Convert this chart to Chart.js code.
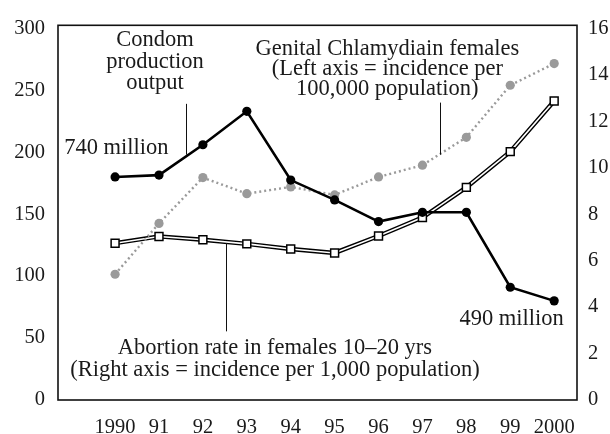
<!DOCTYPE html>
<html>
<head>
<meta charset="utf-8">
<script src="https://cdn.jsdelivr.net/npm/chart.js@4/dist/chart.umd.min.js"></script>
<style>
  html, body { margin: 0; padding: 0; background: #fff; }
  #wrap { width: 610px; height: 434px; position: relative; }
</style>
</head>
<body>
<div id="wrap"><canvas id="chart"></canvas></div>
<script>
// ───── Data ────────────────────────────────────────────────────────────────
const years = [1990, 1991, 1992, 1993, 1994, 1995, 1996, 1997, 1998, 1999, 2000];

// Left axis (millions / incidence per 100,000)
const condomOutput = [180, 181.5, 206, 233, 177.5, 161.5, 144, 151.5, 151.5, 91, 80];
const chlamydia = [101.5, 142.5, 179.5, 166.5, 172, 165.5, 180, 189.5, 212, 254, 271.5];

// Right axis (incidence per 1,000)
const abortion = [6.75, 7.04, 6.9, 6.72, 6.5, 6.33, 7.06, 7.85, 9.15, 10.69, 12.87];

const leftTicks = [0, 50, 100, 150, 200, 250, 300];
const rightTicks = [0, 2, 4, 6, 8, 10, 12, 14, 16];

// Annotation text, placed in data units (x = year, y = left axis value)
const notes = [
  { x: 1990.91, y: 290.5, align: 'center', lines: ['Condom', 'production', 'output'], gap: 17.5 },
  { x: 1988.84, y: 203.5, align: 'left', lines: ['740 million'] },
  { x: 1996.2, y: 283.5, align: 'center', lines: ['Genital Chlamydiain females', '(Left axis = incidence per', '100,000 population)'], gap: 16.3 },
  { x: 1993.64, y: 42, align: 'center', lines: ['Abortion rate in females 10\u201320 yrs', '(Right axis = incidence per 1,000 population)'], gap: 18.2 },
  { x: 1999.03, y: 65, align: 'center', lines: ['490 million'] },
];
const leaders = [
  { x: 1991.62, y1: 239, y2: 198 },
  { x: 1997.4, y1: 240, y2: 198 },
  { x: 1992.53, y1: 126.7, y2: 55.4 },
];

const points = (vals) => vals.map((v, i) => ({ x: years[i], y: v }));

const SERIF = '"Liberation Serif", "Times New Roman", serif';
const INK = '#1a1a1a';

// Frame + annotations drawn after the chart
const annotate = {
  id: 'annotate',
  afterDraw(chart) {
    const { ctx, chartArea: a, scales } = chart;
    const xs = scales.x, ys = scales.y;
    ctx.save();
    ctx.strokeStyle = '#111';
    ctx.lineWidth = 1.6;
    ctx.strokeRect(a.left, a.top, a.right - a.left, a.bottom - a.top);

    ctx.lineWidth = 1;
    leaders.forEach((l) => {
      const px = Math.round(xs.getPixelForValue(l.x)) + 0.5;
      ctx.beginPath();
      ctx.moveTo(px, ys.getPixelForValue(l.y1));
      ctx.lineTo(px, ys.getPixelForValue(l.y2));
      ctx.stroke();
    });

    ctx.fillStyle = INK;
    ctx.font = '22.5px ' + SERIF;
    ctx.textBaseline = 'middle';
    notes.forEach((n) => {
      ctx.textAlign = n.align;
      const px = xs.getPixelForValue(n.x);
      n.lines.forEach((t, i) => {
        ctx.fillText(t, px, ys.getPixelForValue(n.y - i * (n.gap || 0)));
      });
    });
    ctx.restore();
  },
};

new Chart(document.getElementById('chart'), {
  type: 'line',
  data: {
    datasets: [
      {
        label: 'Condom production output',
        data: points(condomOutput),
        yAxisID: 'y',
        borderColor: '#000',
        borderWidth: 2.6,
        pointRadius: 4.6,
        pointBackgroundColor: '#000',
        pointBorderWidth: 0,
        tension: 0,
      },
      {
        label: 'Genital Chlamydia in females',
        data: points(chlamydia),
        yAxisID: 'y',
        borderColor: '#9a9a9a',
        borderWidth: 2.4,
        borderDash: [2, 3],
        pointRadius: 4.6,
        pointBackgroundColor: '#9a9a9a',
        pointBorderWidth: 0,
        tension: 0,
      },
      // Double line: white core on top of a black stroke
      {
        label: 'Abortion rate',
        data: points(abortion),
        yAxisID: 'y2',
        borderColor: '#fff',
        borderWidth: 1.6,
        pointStyle: 'rect',
        pointRadius: 5.6,
        pointBackgroundColor: '#fff',
        pointBorderColor: '#000',
        pointBorderWidth: 1.5,
        tension: 0,
      },
      {
        label: 'Abortion rate outline',
        data: points(abortion),
        yAxisID: 'y2',
        borderColor: '#000',
        borderWidth: 4.4,
        pointRadius: 0,
        tension: 0,
      },
    ],
  },
  options: {
    responsive: true,
    maintainAspectRatio: false,
    animation: false,
    layout: { padding: { top: 18, left: 0, right: 0, bottom: 0 } },
    plugins: {
      legend: { display: false },
      tooltip: { enabled: false },
    },
    scales: {
      x: {
        type: 'linear',
        min: 1988.7,
        max: 2000.52,
        grid: { display: false, drawTicks: false },
        border: { display: false },
        afterFit: (s) => { s.height = 34; },
        ticks: {
          stepSize: 1,
          includeBounds: false,
          padding: 15,
          color: INK,
          font: { family: SERIF, size: 20.5 },
          maxRotation: 0,
          autoSkip: false,
          callback: (v) => {
            if (!years.includes(v)) return '';
            return (v === 1990 || v === 2000) ? String(v) : String(v).slice(2);
          },
        },
      },
      y: {
        position: 'left',
        min: 0,
        max: 302.4,
        grid: { display: false, drawTicks: false },
        border: { display: false },
        afterFit: (s) => { s.width = 58; },
        afterBuildTicks: (s) => { s.ticks = leftTicks.map((v) => ({ value: v })); },
        ticks: {
          padding: 13,
          color: INK,
          font: { family: SERIF, size: 20.5 },
        },
      },
      y2: {
        position: 'right',
        min: 0,
        max: 16.127,
        grid: { display: false, drawTicks: false },
        border: { display: false },
        afterFit: (s) => { s.width = 33; },
        afterBuildTicks: (s) => { s.ticks = rightTicks.map((v) => ({ value: v })); },
        ticks: {
          padding: 11,
          color: INK,
          font: { family: SERIF, size: 20.5 },
        },
      },
    },
  },
  plugins: [annotate],
});
</script>
</body>
</html>
